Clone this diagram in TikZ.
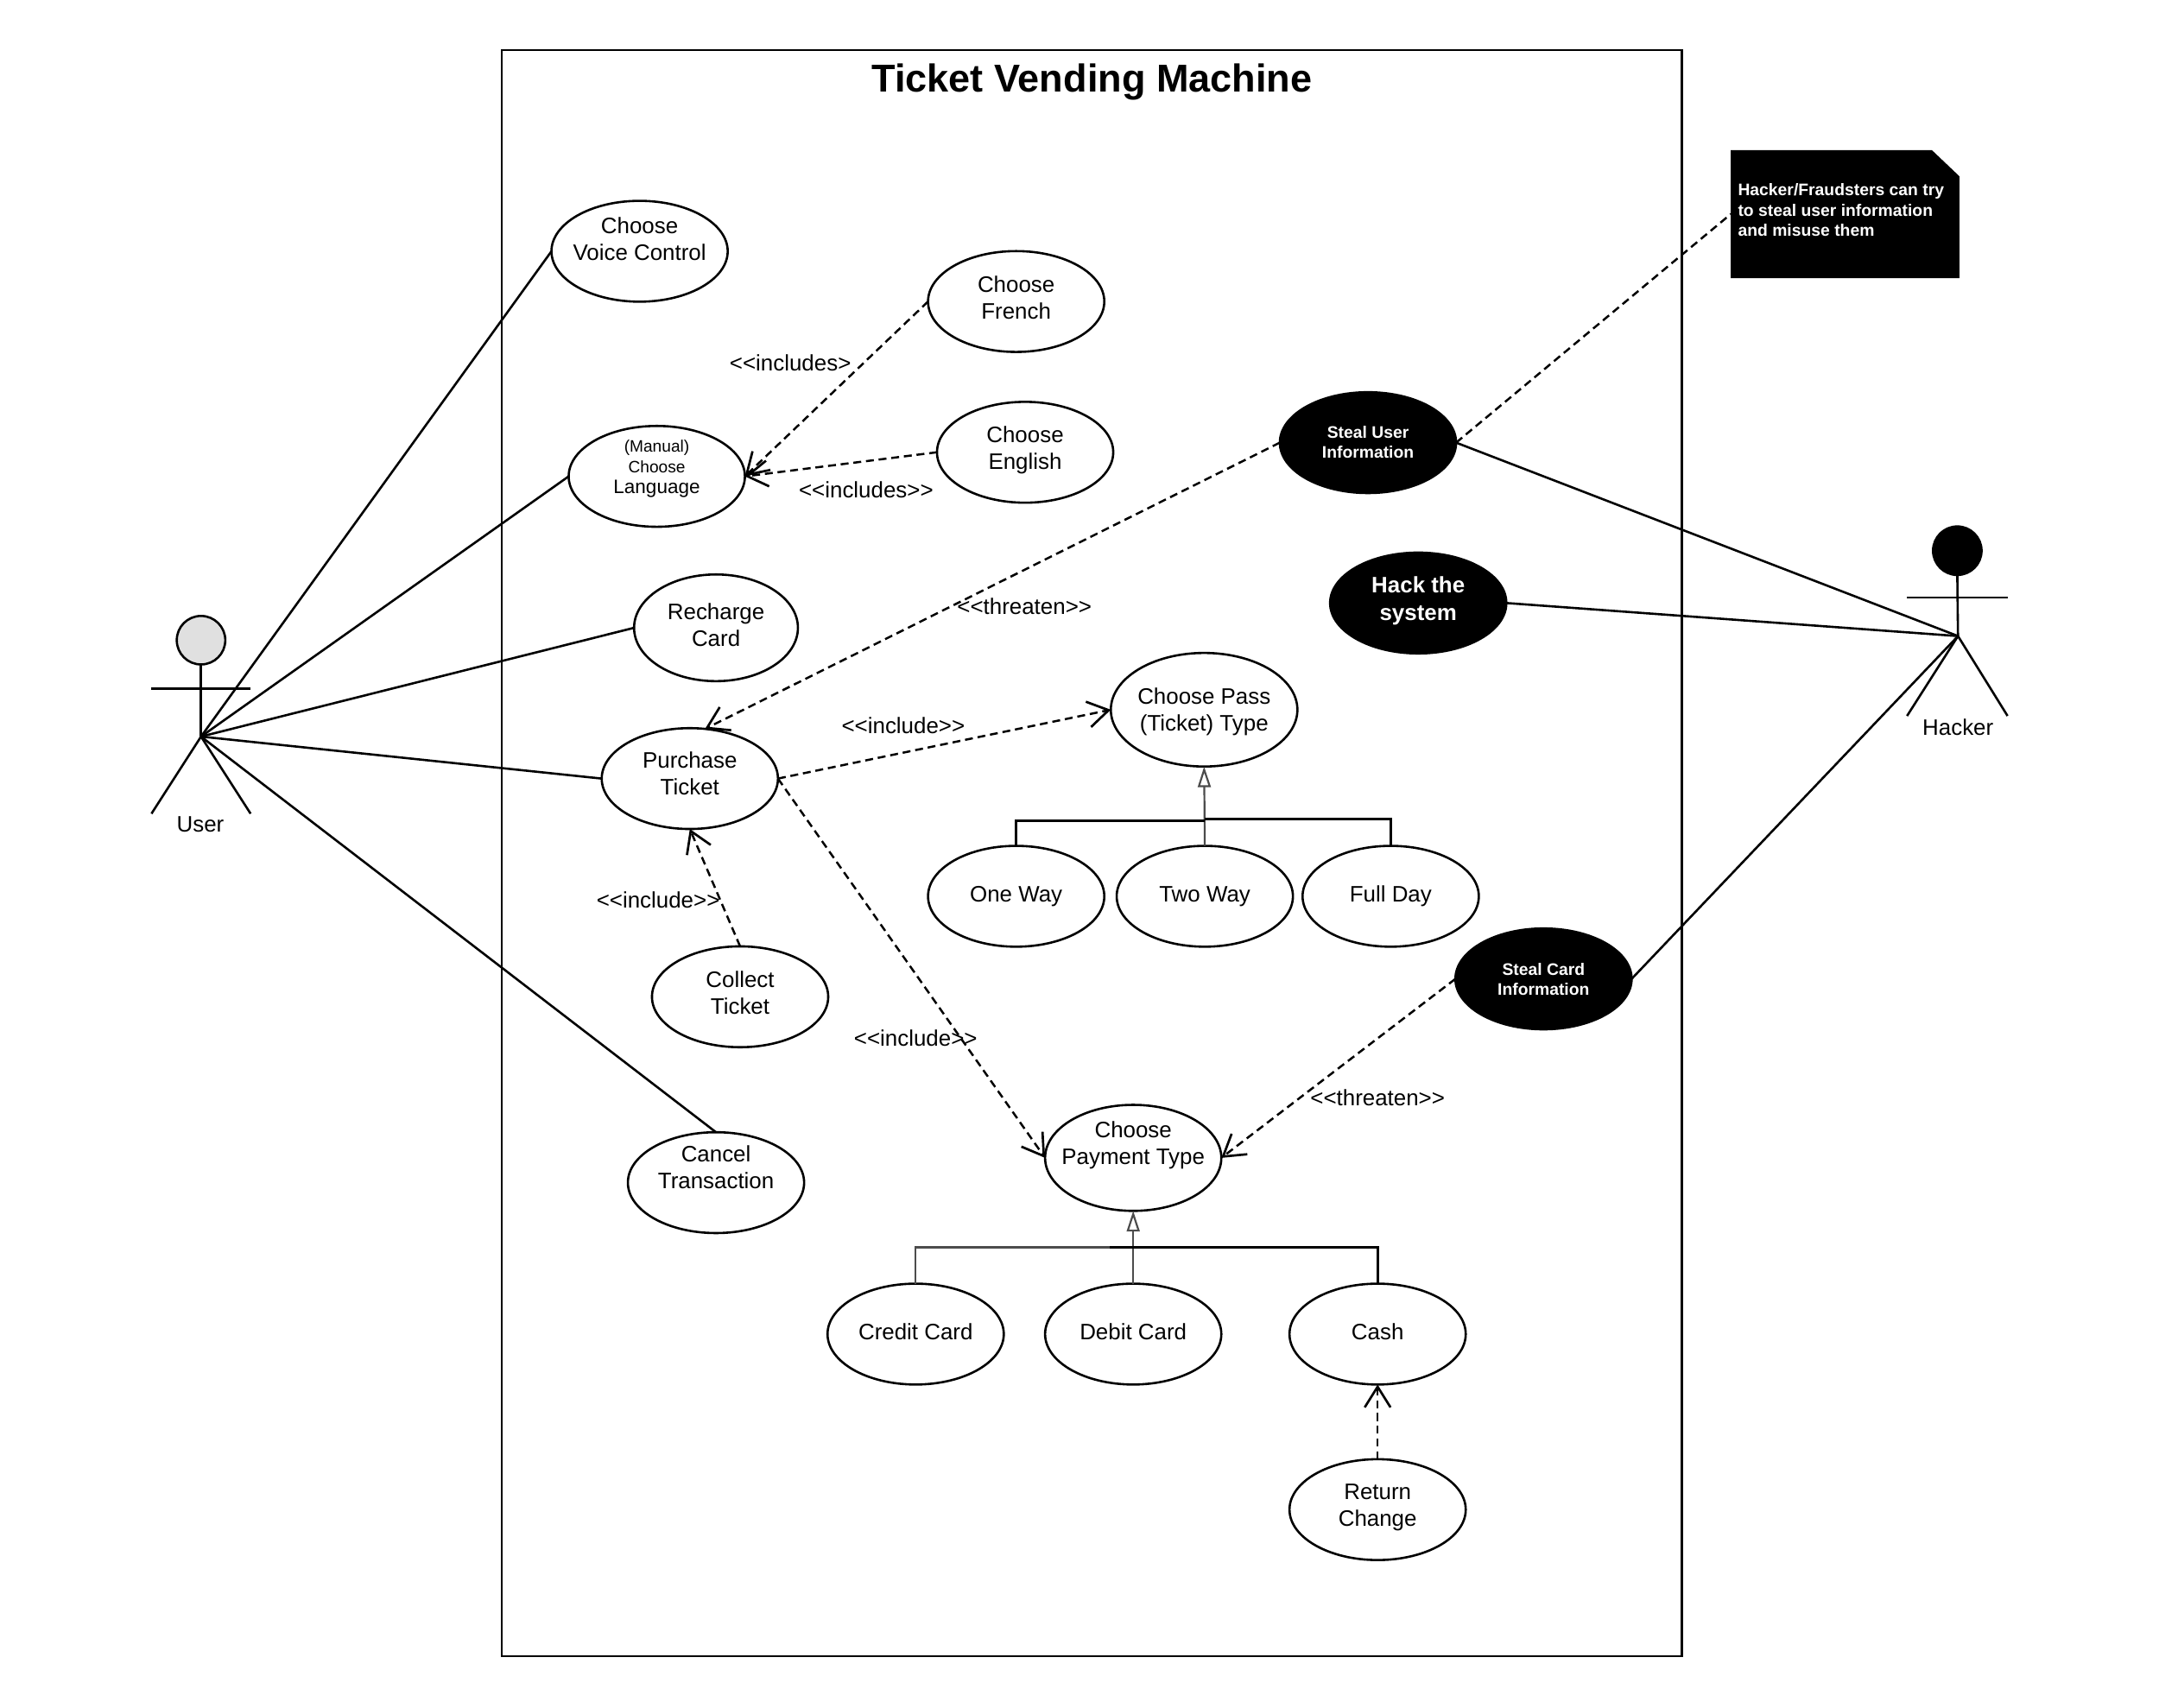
\documentclass[tikz,border=0pt]{standalone}
\usepackage{fontspec}
\setmainfont{Liberation Sans}
\usetikzlibrary{shapes.geometric,arrows.meta}
\newcommand\tl[2]{\smash{\makebox[0pt][c]{\raisebox{\dimexpr #1pt*4/5-4.5pt\relax}{\begin{tabular}{@{}c@{}}#2\end{tabular}}}}}
\newcommand\dbl{<\kern0pt<}
\newcommand\dbr{>\kern0pt>}
\tikzset{
  usecase/.style={shape=ellipse,draw=black,fill=white,line width=1.3pt,inner sep=0pt,outer sep=0pt,
    minimum width=102.4pt,minimum height=58.6pt,font=\fontsize{13}{15.6}\selectfont,text=black},
  threat/.style={usecase,fill=black,text=white,font=\fontsize{9.7}{11.6}\selectfont\bfseries},
  bigthreat/.style={threat,font=\fontsize{13}{16}\selectfont\bfseries},
  assoc/.style={line width=1.3pt,draw=black},
  dep/.style={line width=1.25pt,draw=black,dash pattern=on 4.6pt off 2.8pt,-{Straight Barb[length=12pt,width=15pt,line width=1.35pt]}},
  plain dep/.style={line width=1.25pt,draw=black,dash pattern=on 4.6pt off 2.8pt},
  gen/.style={line width=1.1pt,draw=black!70,-{Triangle[open,length=12pt,width=7.5pt,fill=white,line width=1.1pt]}},
  tree/.style={line width=1.4pt,draw=black},
  treegray/.style={line width=1.2pt,draw=black!70},
  lab/.style={font=\fontsize{13}{15.6}\selectfont,text=black,inner sep=0pt},
  head/.style={shape=circle,draw=black,line width=1.3pt,inner sep=0pt,outer sep=0pt,minimum size=28.2pt},
}
\begin{document}
\begin{tikzpicture}[x=0.8pt,y=-0.8pt]
\useasboundingbox (0,0) rectangle (1568,1240);
\fill[white] (0,0) rectangle (1568,1240);
\draw[line width=1.25pt] (364.5,36.5) rectangle (1221.5,1203);
\node[font=\fontsize{22.6}{27}\selectfont\bfseries,inner sep=0pt] (title) at (793,59.5) {Ticket Vending Machine};

% use cases
\node[usecase] (voice) at (464.5,182.5) {\tl{9}{Choose\\Voice Control}};
\node[usecase] (french) at (738,219) {\tl{3}{Choose\\French}};
\node[usecase] (lang) at (477,346) {\smash{\makebox[0pt][c]{\raisebox{\dimexpr 7pt*4/5-3.7pt\relax}{\fontsize{9.6}{12}\selectfont\begin{tabular}{@{}c@{}}(Manual)\\Choose\\\fontsize{11.3}{12}\selectfont Language\end{tabular}}}}};
\node[usecase] (english) at (744.5,328.5) {\tl{3}{Choose\\English}};
\node[threat] (stealuser) at (993.5,321.5) {\tl{1.5}{Steal User\\Information}};
\node[bigthreat] (hack) at (1030,438) {\tl{3}{Hack the\\system}};
\node[usecase,minimum width=95.2pt,minimum height=62pt] (recharge) at (520,456) {\tl{2}{Recharge\\Card}};
\node[usecase,minimum width=108.4pt,minimum height=66pt] (pass) at (874.5,515.5) {\tl{0}{Choose Pass\\(Ticket) Type}};
\node[usecase] (purchase) at (501,565.5) {\tl{3.5}{Purchase\\Ticket}};
\node[usecase] (oneway) at (738,651) {\tl{1.5}{One Way}};
\node[usecase] (twoway) at (875,651) {\tl{1.5}{Two Way}};
\node[usecase] (fullday) at (1010,651) {\tl{1.5}{Full Day}};
\node[usecase] (collect) at (537.5,724) {\tl{3}{Collect\\Ticket}};
\node[threat] (stealcard) at (1121,711) {\tl{0.5}{Steal Card\\Information}};
\node[usecase] (cancel) at (520,859) {\tl{11}{Cancel\\Transaction}};
\node[usecase,minimum height=61.6pt] (payment) at (823,841) {\tl{11}{Choose\\Payment Type}};
\node[usecase] (credit) at (665,969) {\tl{2}{Credit Card}};
\node[usecase] (debit) at (823,969) {\tl{2}{Debit Card}};
\node[usecase] (cash) at (1000.5,969) {\tl{2}{Cash}};
\node[usecase] (return) at (1000.5,1096.5) {\tl{3.5}{Return\\Change}};

% note
\fill[black] (1257,109) -- (1403,109) -- (1423,128) -- (1423,202) -- (1257,202) -- cycle;
\node[shape=rectangle,inner sep=0pt,outer sep=0pt,minimum width=132.8pt,minimum height=74.4pt] (note) at (1340,155.5) {};
\node[anchor=west,inner sep=0pt,text=white,align=left,font=\fontsize{9.7}{11.6}\selectfont\bfseries] (notetext) at (1262,152.5) {Hacker/Fraudsters can try\\to steal user information\\and misuse them};

% user actor
\node[head,fill=black!12] (userhead) at (146,465) {};
\coordinate (userhub) at (146,535);
\coordinate (userarml) at (110,500);
\coordinate (userarmr) at (182,500);
\coordinate (userlegl) at (110,591);
\coordinate (userlegr) at (182,591);
\draw[assoc] (userhead.south) -- (userhub);
\draw[assoc] (userarml) -- (userarmr);
\draw[assoc] (userlegl) -- (userhub) -- (userlegr);
\node[lab] (user) at (145.5,599) {User};

% hacker actor
\node[head,fill=black] (hackerhead) at (1421.5,400) {};
\coordinate (hackerhub) at (1422,462);
\coordinate (hackerarml) at (1385,434);
\coordinate (hackerarmr) at (1458,434);
\coordinate (hackerlegl) at (1385,520);
\coordinate (hackerlegr) at (1458,520);
\draw[assoc] (hackerhead.south) -- (hackerhub);
\draw[assoc] (hackerarml) -- (hackerarmr);
\draw[assoc] (hackerlegl) -- (hackerhub) -- (hackerlegr);
\node[lab] (hacker) at (1422,528) {Hacker};

% associations
\draw[assoc] (userhub) -- (voice.west);
\draw[assoc] (userhub) -- (lang.west);
\draw[assoc] (userhub) -- (recharge.west);
\draw[assoc] (userhub) -- (purchase.west);
\draw[assoc] (userhub) -- (cancel.north);
\draw[assoc] (hackerhub) -- (stealuser.east);
\draw[assoc] (hackerhub) -- (hack.east);
\draw[assoc] (hackerhub) -- (stealcard.east);

% dependencies
\draw[dep] (french.west) -- (lang.east);
\draw[dep] (english.west) -- (lang.east);
\draw[dep] (stealuser.west) -- (purchase.73);
\draw[plain dep] (stealuser.east) -- (note.west);
\draw[dep] (purchase.east) -- (pass.west);
\draw[dep] (purchase.east) -- (payment.west);
\draw[dep] (collect.north) -- (purchase.south);
\draw[dep] (stealcard.west) -- (payment.east);
\draw[dep] (return.north) -- (cash.south);

% generalisations
\draw[gen] (twoway.north) -- (pass.south);
\draw[tree] (oneway.north) |- (875,596);
\draw[tree] (fullday.north) |- (875,595);
\draw[gen] (debit.north) -- (payment.south);
\draw[treegray] (credit.north) |- (823,906);
\draw[tree] (cash.north) |- (806,906);

% labels
\node[lab] (l1) at (574,263.5) {\dbl includes>};
\node[lab] (l2) at (629,356) {\dbl includes\dbr};
\node[lab] (l3) at (744,440.5) {\dbl threaten\dbr};
\node[lab] (l4) at (656,527) {\dbl include\dbr};
\node[lab] (l5) at (478,653.5) {\dbl include\dbr};
\node[lab] (l6) at (665,754) {\dbl include\dbr};
\node[lab] (l7) at (1000.5,797.5) {\dbl threaten\dbr};
\end{tikzpicture}
\end{document}
